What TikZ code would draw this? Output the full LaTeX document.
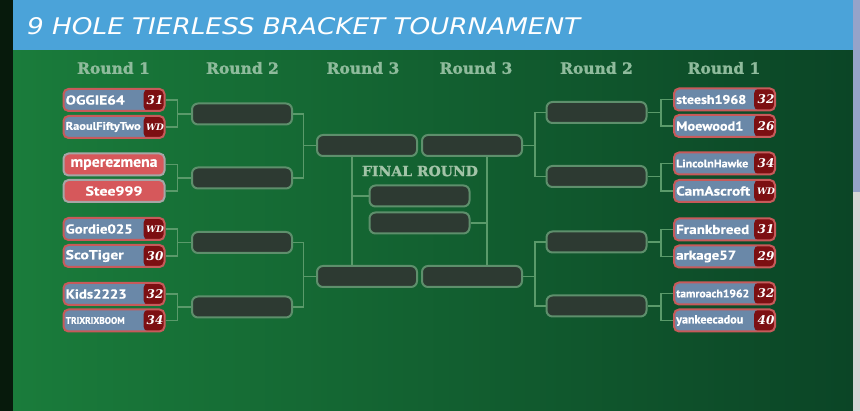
\documentclass[tikz,border=0pt]{standalone}
\usepackage{fontspec}
\usepackage{graphicx}
\newfontfamily\headfont{DejaVu Sans}
\newfontfamily\slabfont{DejaVu Serif}[BoldFeatures={FakeBold=1.2}]
\newfontfamily\namefont{PT Sans}[BoldFeatures={FakeBold=0.6}]
\usetikzlibrary{calc}
\definecolor{hdr}{HTML}{4BA3D9}
\definecolor{gleft}{HTML}{1A7C3B}
\definecolor{gright}{HTML}{0B4526}
\definecolor{stripc}{HTML}{071A0C}
\definecolor{lav}{HTML}{95A3C9}
\definecolor{lgrey}{HTML}{D6D6D6}
\definecolor{pblue}{HTML}{6A88A8}
\definecolor{pborder}{HTML}{C75A5A}
\definecolor{scorered}{HTML}{7C0F12}
\definecolor{salmon}{HTML}{D6585B}
\definecolor{pendb}{HTML}{A6A6A6}
\definecolor{slotc}{HTML}{2D3A32}
\definecolor{slotb}{HTML}{5E8F6C}
\definecolor{connc}{HTML}{5A9A6A}
\definecolor{roundc}{HTML}{8FBB9C}
\definecolor{finalc}{HTML}{A3C4A8}
\newsavebox\nmbox
\newcommand\fitname[3]{\sbox\nmbox{\namefont\bfseries\fontsize{#2}{#2}\selectfont #3}\resizebox{#1pt}{\ht\nmbox}{\usebox\nmbox}}
\begin{document}
\begin{tikzpicture}[x=1pt,y=-1pt,
  player/.style={rectangle, rounded corners=5pt, minimum width=101pt, minimum height=22pt, inner sep=0pt,
    fill=pblue, draw=pborder, line width=2pt,
    path picture={\fill[scorered] ([xshift=-21pt]path picture bounding box.north east) rectangle (path picture bounding box.south east);}},
  pending/.style={rectangle, rounded corners=5pt, minimum width=101pt, minimum height=22pt, inner sep=0pt,
    fill=salmon, draw=pendb, line width=2pt, text=white},
  pname/.style={inner sep=0pt, text=white, anchor=west},
  score/.style={inner sep=0pt, text=white, font=\slabfont\bfseries\itshape\fontsize{12}{12}\selectfont},
  wd/.style={inner sep=0pt, text=white, font=\slabfont\bfseries\itshape\fontsize{9}{9}\selectfont},
  slot/.style={rectangle, rounded corners=6pt, minimum width=100pt, minimum height=21pt, inner sep=0pt,
    fill=slotc, draw=slotb, line width=2pt},
  conn/.style={draw=connc, line width=1.5pt},
  roundlbl/.style={text=roundc, font=\slabfont\bfseries\fontsize{15.5}{15.5}\selectfont, inner sep=0pt},
]
\useasboundingbox (0,0) rectangle (860,411);
% background
\shade[left color=gleft, right color=gright] (13,50) rectangle (853,411);
\fill[stripc] (0,0) rectangle (13,411);
\fill[hdr] (13,0) rectangle (853,50);
\fill[lav] (853,0) rectangle (860,192);
\fill[lgrey] (853,192) rectangle (860,411);
\node[anchor=base west, inner sep=0pt, text=white] (title) at (27,35)
  {\resizebox{553pt}{17pt}{\headfont\itshape 9 HOLE TIERLESS BRACKET TOURNAMENT}};

% round labels
\node[roundlbl] (rl1) at (113.5,68) {Round 1};
\node[roundlbl] (rl2) at (242.5,68) {Round 2};
\node[roundlbl] (rl3) at (363,68) {Round 3};
\node[roundlbl] (rr3) at (476,68) {Round 3};
\node[roundlbl] (rr2) at (596.5,68) {Round 2};
\node[roundlbl] (rr1) at (724,68) {Round 1};

% left round 1
\node[player] (p1) at (114,100) {};
\node[player] (p2) at (114,127) {};
\node[pending] (p3) at (114,164.5) {\fitname{87}{15}{mperezmena}};
\node[pending] (p4) at (114,191) {\fitname{57}{13}{Stee999}};
\node[player] (p5) at (114,229) {};
\node[player] (p6) at (114,256) {};
\node[player] (p7) at (114,294) {};
\node[player] (p8) at (114,320.5) {};
\node[pname] (n1) at ([xshift=3pt]p1.west) {\fitname{59}{13}{OGGIE64}};
\node[pname] (n2) at ([xshift=3pt]p2.west) {\fitname{75}{11}{RaoulFiftyTwo}};
\node[pname] (n5) at ([xshift=3pt]p5.west) {\fitname{67}{13}{Gordie025}};
\node[pname] (n6) at ([xshift=3pt]p6.west) {\fitname{58}{13}{ScoTiger}};
\node[pname] (n7) at ([xshift=3pt]p7.west) {\fitname{61}{13}{Kids2223}};
\node[pname] (n8) at ([xshift=3pt]p8.west) {\fitname{59}{9.5}{TRIXRIXBOOM}};
\node[score] (s1) at ([xshift=-10.5pt]p1.east) {31};
\node[wd] (s2) at ([xshift=-10.5pt]p2.east) {WD};
\node[wd] (s5) at ([xshift=-10.5pt]p5.east) {WD};
\node[score] (s6) at ([xshift=-10.5pt]p6.east) {30};
\node[score] (s7) at ([xshift=-10.5pt]p7.east) {32};
\node[score] (s8) at ([xshift=-10.5pt]p8.east) {34};

% right round 1
\node[player] (q1) at (724.5,99.5) {};
\node[player] (q2) at (724.5,126) {};
\node[player] (q3) at (724.5,163.5) {};
\node[player] (q4) at (724.5,191) {};
\node[player] (q5) at (724.5,229.5) {};
\node[player] (q6) at (724.5,256.5) {};
\node[player] (q7) at (724.5,293.5) {};
\node[player] (q8) at (724.5,320.5) {};
\node[pname] (m1) at ([xshift=3pt]q1.west) {\fitname{70}{12.5}{steesh1968}};
\node[pname] (m2) at ([xshift=3pt]q2.west) {\fitname{67}{13}{Moewood1}};
\node[pname] (m3) at ([xshift=3pt]q3.west) {\fitname{72}{11}{LincolnHawke}};
\node[pname] (m4) at ([xshift=3pt]q4.west) {\fitname{74}{13}{CamAscroft}};
\node[pname] (m5) at ([xshift=3pt]q5.west) {\fitname{73}{13}{Frankbreed}};
\node[pname] (m6) at ([xshift=3pt]q6.west) {\fitname{60}{13}{arkage57}};
\node[pname] (m7) at ([xshift=3pt]q7.west) {\fitname{73}{11}{tamroach1962}};
\node[pname] (m8) at ([xshift=3pt]q8.west) {\fitname{67}{12}{yankeecadou}};
\node[score] (t1) at ([xshift=-10pt]q1.east) {32};
\node[score] (t2) at ([xshift=-10pt]q2.east) {26};
\node[score] (t3) at ([xshift=-10pt]q3.east) {34};
\node[wd] (t4) at ([xshift=-10pt]q4.east) {WD};
\node[score] (t5) at ([xshift=-10pt]q5.east) {31};
\node[score] (t6) at ([xshift=-10pt]q6.east) {29};
\node[score] (t7) at ([xshift=-10pt]q7.east) {32};
\node[score] (t8) at ([xshift=-10pt]q8.east) {40};

% slots
\node[slot] (l2a) at (242,114) {};
\node[slot] (l2b) at (242,178) {};
\node[slot] (l2c) at (242,242.5) {};
\node[slot] (l2d) at (242,307) {};
\node[slot] (l3a) at (367,145.5) {};
\node[slot] (l3b) at (367,276.5) {};
\node[slot] (r3a) at (472,145.5) {};
\node[slot] (r3b) at (472,276.5) {};
\node[slot] (r2a) at (596.5,112.5) {};
\node[slot] (r2b) at (596.5,176.5) {};
\node[slot] (r2c) at (596.5,242) {};
\node[slot] (r2d) at (596.5,306) {};
\node[slot] (f1) at (419.5,196) {};
\node[slot] (f2) at (419.5,223) {};
\node[text=finalc, font=\slabfont\bfseries\fontsize{14}{14}\selectfont, inner sep=0pt] (final) at (420,171) {FINAL ROUND};

% connectors left
\foreach \a/\b/\c in {p1/p2/l2a, p3/p4/l2b, p5/p6/l2c, p7/p8/l2d}{
  \draw[conn] (\a.east) -| ([xshift=-13.5pt]\c.west) |- (\b.east);
  \draw[conn] ([xshift=-13.5pt]\c.west) -- (\c.west);
}
\foreach \a/\b/\c in {l2a/l2b/l3a, l2c/l2d/l3b}{
  \draw[conn] (\a.east) -| ([xshift=-12.5pt]\c.west) |- (\b.east);
  \draw[conn] ([xshift=-12.5pt]\c.west) -- (\c.west);
}
% connectors right
\foreach \a/\b/\c in {q1/q2/r2a, q3/q4/r2b, q5/q6/r2c, q7/q8/r2d}{
  \draw[conn] (\a.west) -| ([xshift=13.5pt]\c.east) |- (\b.west);
  \draw[conn] ([xshift=13.5pt]\c.east) -- (\c.east);
}
\foreach \a/\b/\c in {r2a/r2b/r3a, r2c/r2d/r3b}{
  \draw[conn] (\a.west) -| ([xshift=12pt]\c.east) |- (\b.west);
  \draw[conn] ([xshift=12pt]\c.east) -- (\c.east);
}
% final connectors
\coordinate (jl) at ([xshift=-15pt]l3a.south);
\coordinate (jr) at ([xshift=15pt]r3a.south);
\draw[conn] (jl) -- (jl |- l3b.north);
\draw[conn] (jl |- f1.west) -- (f1.west);
\draw[conn] (jr) -- (jr |- r3b.north);
\draw[conn] (f2.east) -- (jr |- f2.east);
\end{tikzpicture}
\end{document}
